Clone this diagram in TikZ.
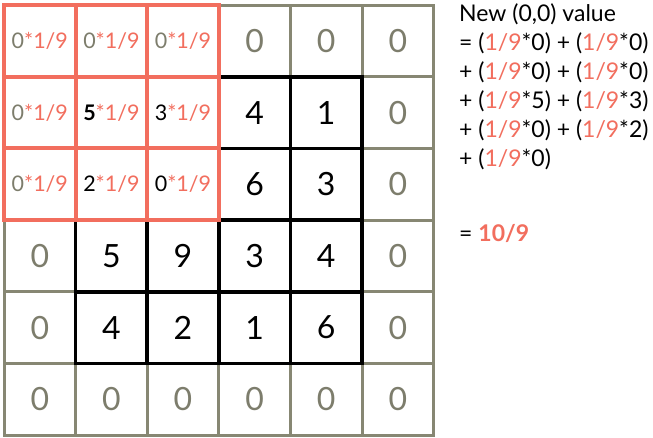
\documentclass[tikz,border=0pt]{standalone}
\usepackage{fontspec}
\setmainfont{Lato}
\definecolor{gridgray}{RGB}{135,135,115}
\definecolor{txtgray}{RGB}{125,125,108}
\definecolor{kred}{RGB}{242,110,94}
\tikzset{
  cell/.style={minimum width=71.6pt, minimum height=71.6pt, inner sep=0pt, anchor=center},
  graycell/.style={cell, draw=gridgray, line width=3pt},
  blackcell/.style={cell, draw=black, line width=3.6pt},
  redcell/.style={cell, draw=kred, line width=3.8pt},
  bignum/.style={font=\fontsize{32}{36}\selectfont},
  smallnum/.style={font=\fontsize{21.5}{24}\selectfont},
  eqline/.style={anchor=base west, inner sep=0pt, font=\fontsize{23}{27}\selectfont}
}
\newcommand{\rk}[1]{\textcolor{kred}{#1}}
\begin{document}
\begin{tikzpicture}[x=1pt,y=-1pt]
\useasboundingbox[fill=white] (0,0) rectangle (653,438);
% outer gray cells
\foreach \r/\c in {0/3,0/4,0/5,1/5,2/5,3/5,4/5,5/5,5/4,5/3,5/2,5/1,5/0,4/0,3/0}{
  \node[graycell, bignum, text=txtgray] (c\r\c) at ({4+71.6*(\c+0.5)},{5+71.7*(\r+0.5)}) {0};
}
% inner black cells
\foreach \r/\c/\v in {1/3/4,1/4/1,2/3/6,2/4/3,3/1/5,3/2/9,3/3/3,3/4/4,4/1/4,4/2/2,4/3/1,4/4/6}{
  \node[blackcell, bignum] (c\r\c) at ({4+71.6*(\c+0.5)},{5+71.7*(\r+0.5)}) {\v};
}
% red kernel cells
\foreach \r/\c/\v in {0/0/{\textcolor{txtgray}{0}},0/1/{\textcolor{txtgray}{0}},0/2/{\textcolor{txtgray}{0}},
  1/0/{\textcolor{txtgray}{0}},1/1/{\textbf{5}},1/2/{3},
  2/0/{\textcolor{txtgray}{0}},2/1/{2},2/2/{0}}{
  \node[redcell, smallnum] (c\r\c) at ({4+71.6*(\c+0.5)},{5+71.7*(\r+0.5)}) {\v\rk{*1/9}};
}
% equation text
\node[eqline] (l1) at (459,22) {New (0,0) value};
\node[eqline] (l2) at (459,51) {= (\rk{1/9}*0) + (\rk{1/9}*0)};
\node[eqline] (l3) at (459,80) {+ (\rk{1/9}*0) + (\rk{1/9}*0)};
\node[eqline] (l4) at (459,109) {+ (\rk{1/9}*5) + (\rk{1/9}*3)};
\node[eqline] (l5) at (459,138) {+ (\rk{1/9}*0) + (\rk{1/9}*2)};
\node[eqline] (l6) at (459,167) {+ (\rk{1/9}*0)};
\node[eqline] (l7) at (459,242) {= \textbf{\rk{10/9}}};
\end{tikzpicture}
\end{document}
